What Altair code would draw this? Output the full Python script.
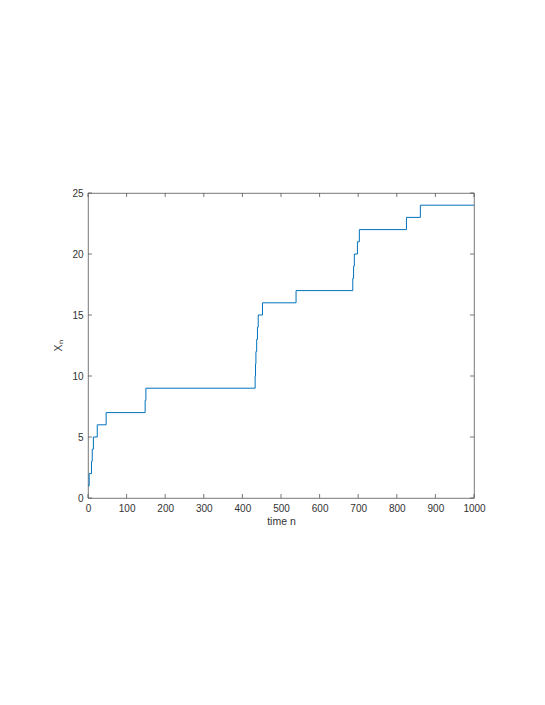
import altair as alt
import pandas as pd

# change points of the step path (time n, value X_n)
times = [0, 3, 9, 11, 14, 24, 47, 148, 150, 433, 434, 435, 437, 439, 441, 452,
         539, 686, 688, 690, 698, 703, 825, 861, 1000]
values = [1, 2, 3, 4, 5, 6, 7, 8, 9, 10, 11, 12, 13, 14, 15, 16,
          17, 18, 19, 20, 21, 22, 23, 24, 24]

x_ticks = [0, 100, 200, 300, 400, 500, 600, 700, 800, 900, 1000]
y_ticks = [0, 5, 10, 15, 20, 25]

W, H = 386, 305
AX = "#333333"
BOX = "#555555"
FONT = "Liberation Sans"

df = pd.DataFrame({"n": times, "X": values})
xt = pd.DataFrame({"t": x_ticks})
yt = pd.DataFrame({"t": y_ticks})

xs = alt.Scale(domain=[0, 1000], nice=False, zero=False)
ys = alt.Scale(domain=[0, 25], nice=False, zero=False)

common = dict(tickSize=0, domain=False, grid=False, labelOverlap=False,
              labelFlush=False, format="d", labelFont=FONT, titleFont=FONT,
              labelFontSize=10, titleFontSize=10.5, labelColor=AX,
              titleColor=AX, titleFontWeight="normal", labelPadding=5)
x_axis = alt.Axis(values=x_ticks, titlePadding=3, **common)
y_axis = alt.Axis(values=y_ticks, titlePadding=8, **common)

line = alt.Chart(df).mark_line(
    interpolate="step-after", color="#0072BD", strokeWidth=1, clip=True
).encode(
    x=alt.X("n:Q", scale=xs, title="time n", axis=x_axis),
    y=alt.Y("X:Q", scale=ys, title="Xₙ", axis=y_axis),
)

xtick_b = alt.Chart(xt).mark_rule(color=BOX, strokeWidth=0.8).encode(
    x=alt.X("t:Q", scale=xs, axis=x_axis, title="time n"),
    y=alt.value(H), y2=alt.value(H - 4))
xtick_t = alt.Chart(xt).mark_rule(color=BOX, strokeWidth=0.8).encode(
    x=alt.X("t:Q", scale=xs, axis=x_axis, title="time n"),
    y=alt.value(0), y2=alt.value(4))
ytick_l = alt.Chart(yt).mark_rule(color=BOX, strokeWidth=0.8).encode(
    y=alt.Y("t:Q", scale=ys, axis=y_axis, title="Xₙ"),
    x=alt.value(0), x2=alt.value(4))
ytick_r = alt.Chart(yt).mark_rule(color=BOX, strokeWidth=0.8).encode(
    y=alt.Y("t:Q", scale=ys, axis=y_axis, title="Xₙ"),
    x=alt.value(W), x2=alt.value(W - 4))

chart = alt.layer(line, xtick_b, xtick_t, ytick_l, ytick_r).properties(
    width=W, height=H,
    background="white",
    autosize=alt.AutoSizeParams(type="none"),
    padding={"left": 80, "top": 185, "right": 60, "bottom": 190},
).configure_view(
    stroke=BOX, strokeWidth=0.8
)

chart.save("out.html", embed_options={"renderer": "svg", "actions": False})
